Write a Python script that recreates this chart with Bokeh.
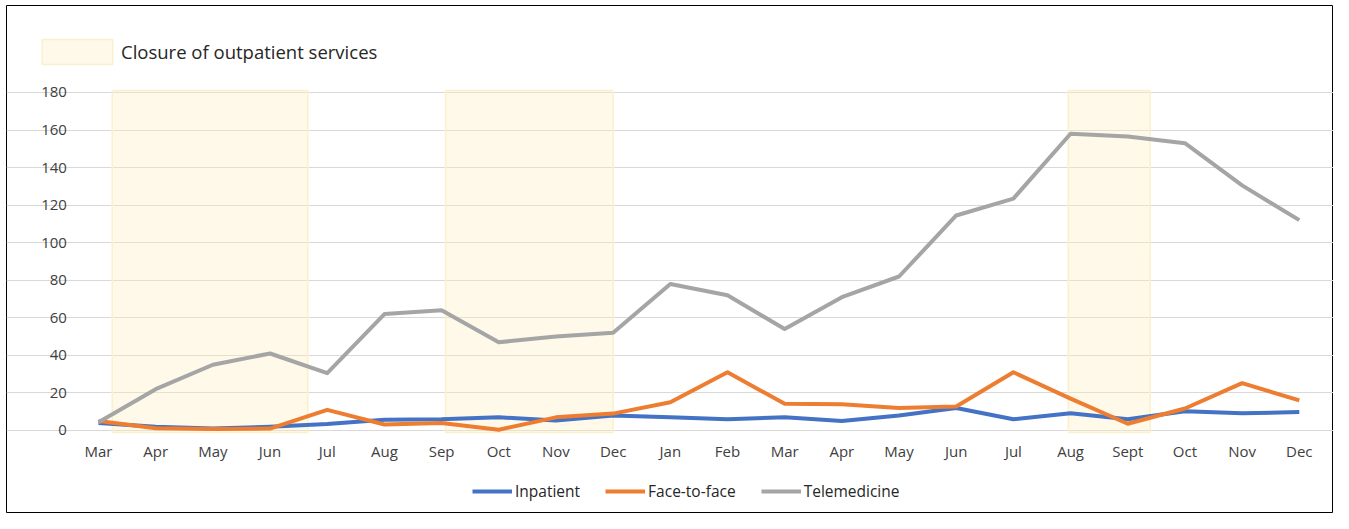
from bokeh.plotting import figure
from bokeh.models import Range1d, Legend, LegendItem, FixedTicker
from bokeh.embed import file_html
from bokeh.resources import INLINE

months = ["Mar", "Apr", "May", "Jun", "Jul", "Aug", "Sep", "Oct", "Nov", "Dec",
          "Jan", "Feb", "Mar", "Apr", "May", "Jun", "Jul", "Aug", "Sept", "Oct", "Nov", "Dec"]
inpatient = [4, 2, 1, 2, 3.5, 5.7, 6, 7, 5.3, 8, 7, 6, 7, 5, 8, 12, 6, 9.2, 6, 10.3, 9.2, 9.8]
face_to_face = [5, 1.2, 0.8, 1, 11, 3.2, 4, 0.4, 7, 9, 15, 31, 14.2, 14, 12, 12.8, 31, 17, 3.6, 11.7, 25.2, 16]
telemedicine = [4.4, 22, 35, 41, 30.5, 62, 64, 47, 50, 52, 78, 72, 54, 71, 82, 114.5, 123.5, 158, 156.5, 153, 130.5, 112]

# closure periods (in month-index units)
closure_start = [0.24, 6.07, 16.96]
closure_end = [3.66, 9.0, 18.39]
closure_bottom = [-1, -1, -1]
closure_top = [181, 181, 181]

y_ticks = [0, 20, 40, 60, 80, 100, 120, 140, 160, 180]

FONT = "Open Sans"
x = list(range(len(months)))

p = figure(width=1333, height=513, output_backend="svg", toolbar_location=None,
           x_range=Range1d(-1.6089, 21.598), y_range=Range1d(-44.196, 226.30),
           min_border_left=6, min_border_right=0, min_border_top=5, min_border_bottom=0)
p.outline_line_color = "black"
p.outline_line_width = 1
p.background_fill_color = "white"
p.border_fill_color = "white"

shade = p.quad(left=closure_start, right=closure_end, bottom=closure_bottom, top=closure_top,
               fill_color="#FCEFC0", fill_alpha=0.35, line_color="#FBF0CC", line_width=1.5)

r1 = p.line(x, inpatient, line_color="#4472C4", line_width=4, line_join="round")
r2 = p.line(x, face_to_face, line_color="#ED7D31", line_width=4, line_join="round")
r3 = p.line(x, telemedicine, line_color="#A5A5A5", line_width=4, line_join="round")

p.xgrid.visible = False
p.ygrid.grid_line_color = "#D9D9D9"
p.ygrid.grid_line_width = 1
p.ygrid.bounds = (-0.5, len(months) - 0.5)
p.yaxis.ticker = FixedTicker(ticks=y_ticks)
p.xaxis.ticker = FixedTicker(ticks=x)
p.xaxis.major_label_overrides = {i: m for i, m in enumerate(months)}
p.xaxis.fixed_location = 0
p.yaxis.fixed_location = -0.5

for ax in (p.xaxis, p.yaxis):
    ax.axis_line_color = None
    ax.major_tick_line_color = None
    ax.minor_tick_line_color = None
    ax.major_tick_out = 0
    ax.major_tick_in = 0
    ax.minor_tick_out = 0
    ax.major_label_text_font = FONT
    ax.major_label_text_font_size = "15px"
    ax.major_label_text_color = "#404040"
p.yaxis.major_label_standoff = 3
p.xaxis.major_label_standoff = 11

legend = Legend(items=[LegendItem(label="Inpatient", renderers=[r1]),
                       LegendItem(label="Face-to-face", renderers=[r2]),
                       LegendItem(label="Telemedicine", renderers=[r3])],
                orientation="horizontal", location=(466, 11),
                glyph_width=40, glyph_height=20, label_standoff=3, spacing=25,
                padding=0, margin=0, border_line_color=None, background_fill_alpha=0,
                label_text_font=FONT, label_text_font_size="15.5px", label_text_color="#262626")
p.add_layout(legend)

legend2 = Legend(items=[LegendItem(label="Closure of outpatient services", renderers=[shade])],
                 location=(27, 446), glyph_width=88, glyph_height=31, label_standoff=0,
                 padding=0, margin=0, border_line_color=None, background_fill_alpha=0,
                 label_text_font=FONT, label_text_font_size="18.5px", label_text_color="#262626")
p.add_layout(legend2)

open("out.html", "w").write(file_html(p, INLINE))
